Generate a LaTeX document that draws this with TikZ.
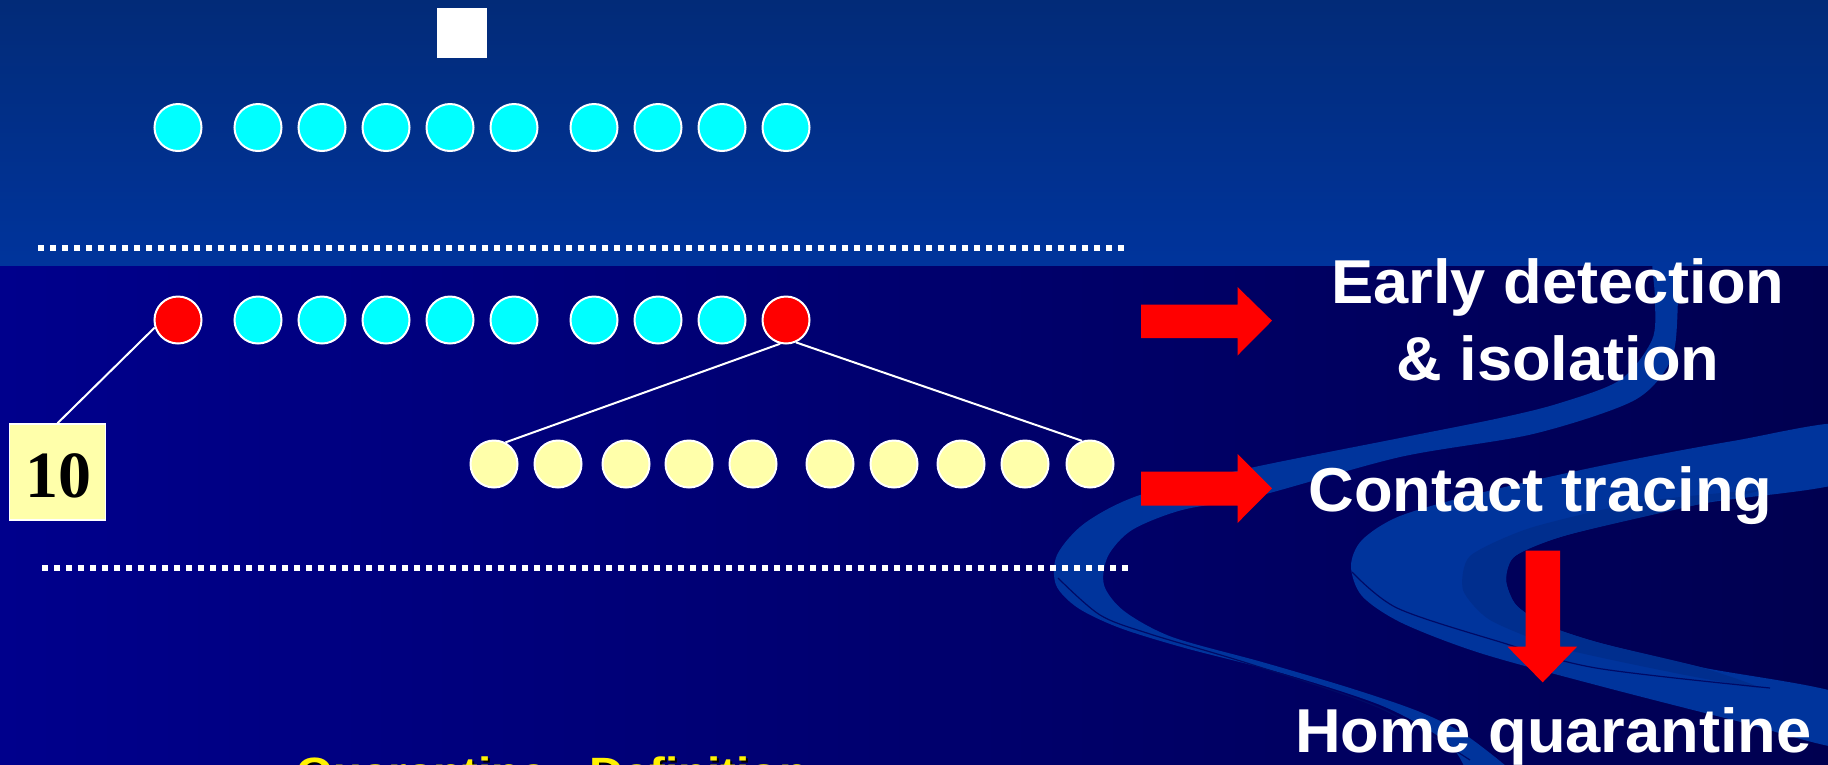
\documentclass[tikz,border=0pt]{standalone}
\usepackage{fontspec}
\setmainfont{Liberation Sans}
\newfontfamily\serifbold{Liberation Serif}
\usepackage{graphicx}
\definecolor{topA}{HTML}{022B78}
\definecolor{topB}{HTML}{00349C}
\definecolor{lowL}{HTML}{00008C}
\definecolor{lowR}{HTML}{000050}
\definecolor{ribbon}{HTML}{00349C}
\definecolor{ribbonDk}{HTML}{002E8E}
\definecolor{ribbonLine}{HTML}{000A66}
\definecolor{cyanDot}{HTML}{00FFFF}
\definecolor{paleY}{HTML}{FFFFAA}
\definecolor{arrowRed}{HTML}{FF0000}
\begin{document}
\begin{tikzpicture}[x=1pt,y=-1pt,
  dot/.style={circle,draw=white,line width=2pt,minimum size=47pt,inner sep=0pt},
  cyandot/.style={dot,fill=cyanDot},
  reddot/.style={dot,fill=red},
  yeldot/.style={dot,fill=paleY},
  link/.style={draw=white,line width=2pt},
  sepline/.style={white,line width=5.5pt,dash pattern=on 5.5pt off 6.5pt},
  headtext/.style={text=white,font=\fontsize{62}{62}\selectfont\bfseries,inner sep=0pt,anchor=base},
  blockarrow/.style={fill=arrowRed},
  thinline/.style={draw=ribbonLine,line width=1.2pt}]

\useasboundingbox (0,0) rectangle (1828,764);
\clip (0,0) rectangle (1828,764);

% lower panel background
\shade[left color=lowL,right color=lowR] (0,265) rectangle (1828,764);

% ribbons behind the right column
\begin{scope}
  \clip (0,265) rectangle (1828,764);
  \fill[ribbon] plot[smooth cycle,tension=0.5] coordinates {
    (1652,240) (1655,300) (1652,340) (1620,380) (1560,403) (1500,418)
    (1400,438) (1250,468) (1140,495) (1085,523) (1057,555) (1056,585)
    (1078,608) (1120,628) (1185,648) (1285,674) (1385,707) (1450,745)
    (1480,790) (1530,790) (1470,738) (1420,712) (1350,688) (1262,662)
    (1172,637) (1124,611) (1104,585) (1108,556) (1132,530) (1182,510)
    (1258,496) (1400,457) (1533,434) (1633,401) (1669,364) (1677,324)
    (1676,240)};
  \fill[ribbon] plot[smooth cycle,tension=0.5] coordinates {
    (1850,424) (1733,441) (1600,466) (1480,493) (1400,516) (1362,540)
    (1351,566) (1362,596) (1402,623) (1480,653) (1600,686) (1733,720)
    (1850,748) (1850,697) (1700,667) (1600,643) (1546,625) (1516,605)
    (1506,580) (1515,556) (1567,535) (1700,504) (1850,480)};
  \fill[ribbonDk] plot[smooth cycle,tension=0.4] coordinates {
    (1760,490) (1640,502) (1530,528) (1470,556) (1463,590) (1490,620)
    (1560,648) (1680,674) (1760,688) (1700,667) (1600,643) (1546,625)
    (1516,605) (1506,580) (1515,556) (1567,535) (1700,504)};
  \draw[thinline] plot[smooth] coordinates {
    (1058,578) (1100,615) (1150,634) (1250,664) (1380,708) (1470,760)};
  \draw[thinline] plot[smooth] coordinates {
    (1352,572) (1397,608) (1497,641) (1596,668) (1770,688)};
\end{scope}

% upper panel background
\shade[top color=topA,bottom color=topB] (0,0) rectangle (1828,265);

% separators
\draw[sepline] (38,248) -- (1126,248);
\draw[sepline] (42,568) -- (1128,568);

% marker square
\node[fill=white,minimum size=50pt,inner sep=0pt] (sq) at (462,32.5) {};

% first row
\foreach \x [count=\i] in {178,258,322,386,450,514,594,658,722,786}
  \node[cyandot] (a\i) at (\x,127.5) {};

% second row: two cases among the population
\node[reddot] (b1) at (178,320) {};
\foreach \x [count=\i from 2] in {258,322,386,450,514,594,658,722}
  \node[cyandot] (b\i) at (\x,320) {};
\node[reddot] (b10) at (786,320) {};

% contacts
\foreach \x [count=\i] in {494,558,626,689,753,830,894,961,1025,1090}
  \node[yeldot] (c\i) at (\x,464) {};

% count box
\node[draw=white,line width=1.5pt,fill=paleY,minimum size=96pt,inner sep=0pt] (cnt) at (57.5,472) {};
\node[anchor=base,inner sep=0pt,text=black,font=\serifbold\fontsize{66}{66}\selectfont\bfseries] (cntnum) at (58.5,497) {10};

\draw[link] (cnt.north) -- (b1.198);
\draw[link] (b10.256) -- (c1.62);
\draw[link] (b10.294) -- (c10.109);

% block arrows
\fill[blockarrow] (1141,304.5) -- (1237.5,304.5) -- (1237.5,287) -- (1272,320.7)
  -- (1237.5,355.5) -- (1237.5,338) -- (1141,338) -- cycle;
\fill[blockarrow] (1141,471.5) -- (1237.5,471.5) -- (1237.5,454) -- (1272,488.3)
  -- (1237.5,523) -- (1237.5,505.5) -- (1141,505.5) -- cycle;
\fill[blockarrow] (1525.7,550.7) -- (1560,550.7) -- (1560,646.7) -- (1577,646.7)
  -- (1542.7,682.3) -- (1507.5,646.7) -- (1525.7,646.7) -- cycle;

% measures
\node[headtext] (ed) at (1558,303) {\scalebox{1.02}[1]{Early detection}};
\node[headtext] (iso) at (1558,380) {\scalebox{1.02}[1]{\& isolation}};
\node[headtext] (ct) at (1540.5,511) {\scalebox{1.02}[1]{Contact tracing}};
\node[headtext] (hq) at (1553.5,752) {\scalebox{1.02}[1]{Home quarantine}};

% slide title at the foot, with its shadow
\node[anchor=base west,inner sep=0pt,text=black,font=\fontsize{42.4}{42.4}\selectfont\bfseries] (qdshadow) at (298,789.5) {\scalebox{1.12}[1]{Quarantine - Definition}};
\node[anchor=base west,inner sep=0pt,text=yellow,font=\fontsize{42.4}{42.4}\selectfont\bfseries] (qd) at (296,787.5) {\scalebox{1.12}[1]{Quarantine - Definition}};
\end{tikzpicture}
\end{document}
